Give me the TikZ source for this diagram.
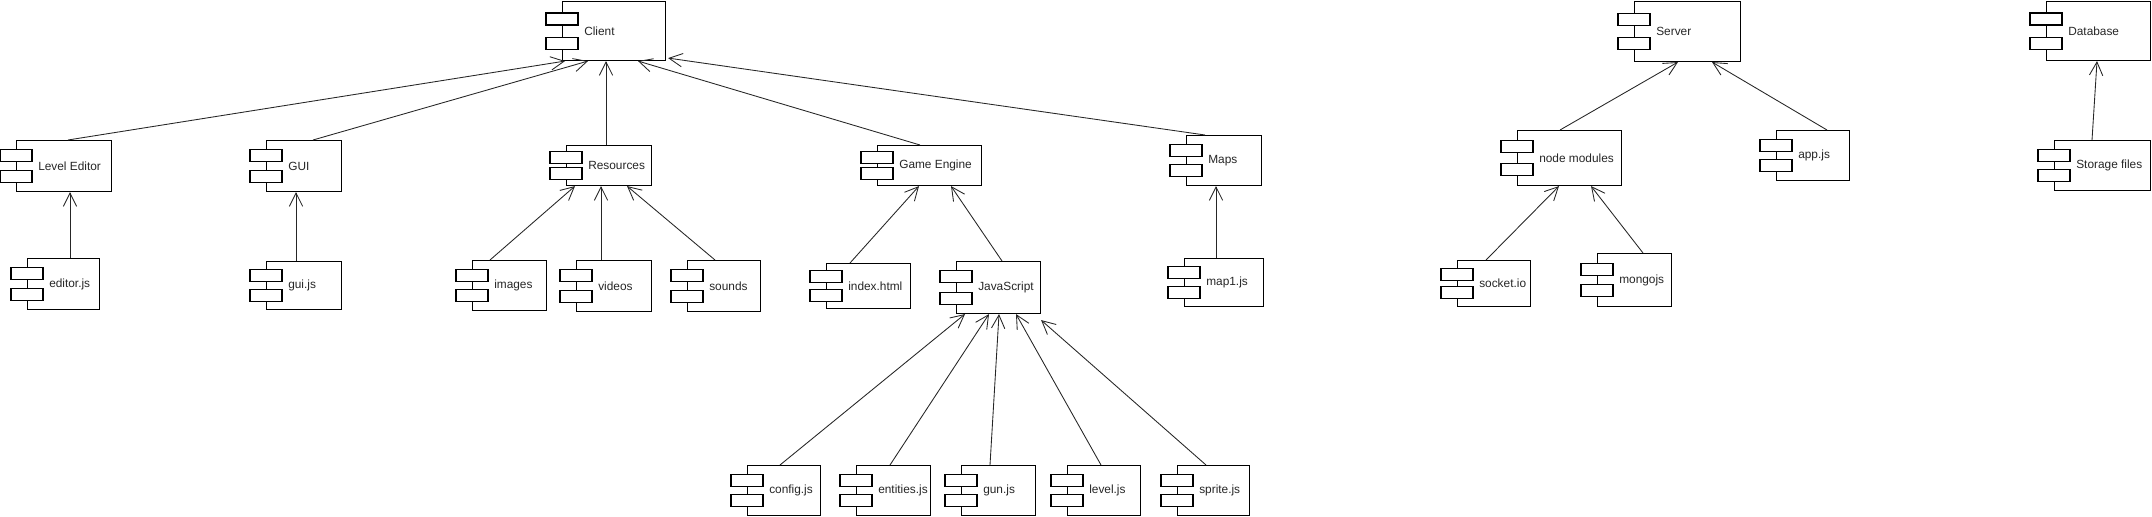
\documentclass[tikz,border=0pt]{standalone}
\usepackage{fontspec}
\setmainfont{Liberation Sans}
\usetikzlibrary{arrows.meta,calc}

\newdimen\px
\px=0.75pt

\tikzset{
  comp/.style={draw, line width=0.8pt, rectangle, anchor=north west, inner sep=0pt},
  jetty/.style={draw, line width=0.8pt, fill=white},
  complabel/.style={anchor=west, inner sep=0pt, font=\fontsize{8.9}{10}\selectfont, text=black!85},
  dep/.style={line width=0.65pt, black!85, -{Straight Barb[length=10pt,width=10pt]}},
}

% component box: name, top left corner, width, height, text
\newcommand{\umlcomp}[5]{%
  \node[comp, minimum width=#3\px, minimum height=#4\px] (#1) at (#2) {};
  \draw[jetty] ($(#1.north west)!0.3!(#1.south west)$) ++(-16,-6) rectangle ++(32,12);
  \draw[jetty] ($(#1.north west)!0.7!(#1.south west)$) ++(-16,-6) rectangle ++(32,12);
  \node[complabel] (#1-txt) at ([xshift=22\px]#1.west) {#5};
}

\begin{document}
\begin{tikzpicture}[x=0.75pt,y=-0.75pt]
  \useasboundingbox (0,0) rectangle (2152,517);

  % client side
  \umlcomp{client}{562,1}{103}{59}{Client}
  \umlcomp{le}{16,140}{95}{51}{Level Editor}
  \umlcomp{gui}{266,140}{75}{51}{GUI}
  \umlcomp{res}{566,145}{85}{40}{Resources}
  \umlcomp{ge}{877,145}{104}{40}{Game Engine}
  \umlcomp{maps}{1186,135}{75}{50}{Maps}
  \umlcomp{edjs}{27,258}{72}{51}{editor.js}
  \umlcomp{guijs}{266,261}{75}{48}{gui.js}
  \umlcomp{images}{472,260}{74}{50}{images}
  \umlcomp{videos}{576,260}{75}{51}{videos}
  \umlcomp{sounds}{687,260}{73}{51}{sounds}
  \umlcomp{index}{826,263}{84}{45}{index.html}
  \umlcomp{js}{956,261}{84}{52}{JavaScript}
  \umlcomp{map1}{1184,258}{79}{48}{map1.js}
  \umlcomp{config}{747,465}{73}{50}{config.js}
  \umlcomp{entities}{856,465}{74}{50}{entities.js}
  \umlcomp{gun}{961,465}{74}{50}{gun.js}
  \umlcomp{level}{1067,465}{73}{50}{level.js}
  \umlcomp{sprite}{1177,465}{72}{50}{sprite.js}

  % server side
  \umlcomp{server}{1634,1}{106}{60}{Server}
  \umlcomp{nm}{1517,130}{104}{55}{node modules}
  \umlcomp{appjs}{1776,130}{73}{50}{app.js}
  \umlcomp{socket}{1457,260}{73}{46}{socket.io}
  \umlcomp{mongo}{1597,253}{74}{53}{mongojs}

  % database
  \umlcomp{db}{2046,1}{104}{59}{Database}
  \umlcomp{storage}{2054,140}{96}{50}{Storage files}

  % dependencies
  \draw[dep] ([xshift=52\px]le.north west) -- ([xshift=3\px]client.south west);
  \draw[dep] ([xshift=47\px]gui.north west) -- ([xshift=26\px]client.south west);
  \draw[dep] ([xshift=40\px]res.north west) -- ([xshift=44\px]client.south west);
  \draw[dep] ([xshift=43\px]ge.north west) -- ([xshift=76\px]client.south west);
  \draw[dep] ([xshift=19\px]maps.north west) -- ([xshift=2\px,yshift=3\px]client.south east);

  \draw[dep] ([xshift=43\px]edjs.north west) -- ([xshift=54\px]le.south west);
  \draw[dep] ([xshift=30\px]guijs.north west) -- ([xshift=30\px]gui.south west);

  \draw[dep] ([xshift=18\px]images.north west) -- ([xshift=9\px]res.south west);
  \draw[dep] ([xshift=25\px]videos.north west) -- ([xshift=35\px]res.south west);
  \draw[dep] ([xshift=28\px]sounds.north west) -- ([xshift=61\px]res.south west);

  \draw[dep] ([xshift=24\px]index.north west) -- ([xshift=42\px]ge.south west);
  \draw[dep] ([xshift=46\px]js.north west) -- ([xshift=74\px]ge.south west);

  \draw[dep] ([xshift=33\px]config.north west) -- ([xshift=9\px]js.south west);
  \draw[dep] ([xshift=34\px]entities.north west) -- ([xshift=33\px]js.south west);
  \draw[dep] ([xshift=29\px]gun.north west) -- ([xshift=43\px]js.south west);
  \draw[dep] ([xshift=34\px]level.north west) -- ([xshift=60\px]js.south west);
  \draw[dep] ([xshift=29\px]sprite.north west) -- ([yshift=-6\px]js.south east);

  \draw[dep] ([xshift=32\px]map1.north west) -- ([xshift=30\px]maps.south west);

  \draw[dep] ([xshift=43\px]nm.north west) -- ([xshift=44\px]server.south west);
  \draw[dep] ([xshift=51\px]appjs.north west) -- ([xshift=78\px]server.south west);
  \draw[dep] ([xshift=29\px]socket.north west) -- ([xshift=42\px]nm.south west);
  \draw[dep] ([xshift=46\px]mongo.north west) -- ([xshift=74\px]nm.south west);

  \draw[dep] ([xshift=38\px]storage.north west) -- ([xshift=51\px]db.south west);
\end{tikzpicture}
\end{document}
